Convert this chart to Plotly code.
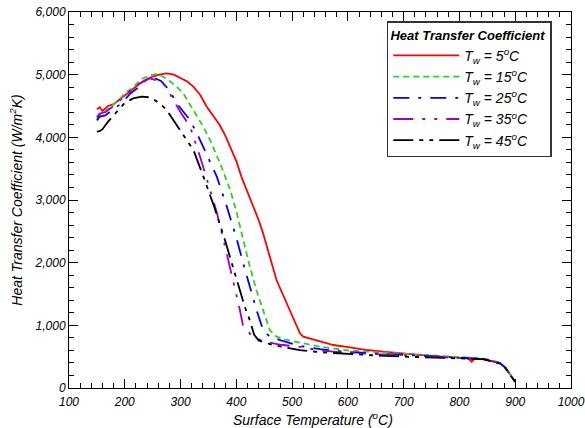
import plotly.graph_objects as go

# Surface temperature (°C) and heat transfer coefficient (W/m2K) for each water temperature
t_5 = [150, 155, 160, 170, 180, 190, 200, 210, 220, 230, 240, 250, 262, 275, 288, 300, 312, 323, 335, 347, 358, 370, 380, 389, 400, 410, 420, 430, 440, 448, 460, 472, 484, 496, 505, 514, 520, 535, 550, 574, 604, 634, 663, 693, 723, 753, 783, 813, 818, 822, 827, 843, 858, 873, 882, 891, 896, 900]
h_5 = [4450, 4480, 4420, 4500, 4530, 4600, 4680, 4750, 4820, 4880, 4930, 4970, 5000, 5020, 5000, 4950, 4890, 4810, 4680, 4489, 4350, 4200, 4030, 3851, 3620, 3350, 3130, 2893, 2680, 2468, 2100, 1723, 1480, 1245, 1040, 873, 819, 780, 740, 686, 650, 606, 580, 553, 530, 510, 492, 473, 455, 420, 470, 457, 430, 394, 330, 207, 150, 100]

t_15 = [150, 155, 160, 170, 180, 190, 200, 215, 230, 245, 257, 269, 283, 293, 305, 323, 340, 353, 372, 389, 400, 412, 424, 436, 448, 460, 472, 490, 514, 550, 600, 650, 700, 750, 800, 820, 843, 858, 873, 882, 891, 900]
h_15 = [4300, 4350, 4380, 4450, 4520, 4600, 4700, 4800, 4930, 4990, 5010, 4967, 4880, 4808, 4702, 4436, 4180, 3957, 3560, 3160, 2820, 2380, 1942, 1560, 1245, 925, 819, 770, 723, 660, 600, 570, 545, 520, 495, 480, 470, 440, 400, 330, 210, 110]

t_25 = [150, 155, 165, 180, 195, 210, 225, 240, 252, 265, 280, 293, 317, 335, 350, 365, 383, 400, 412, 424, 436, 448, 460, 480, 514, 550, 600, 650, 700, 750, 800, 820, 843, 858, 873, 882, 891, 900]
h_25 = [4270, 4330, 4350, 4450, 4550, 4700, 4800, 4930, 4950, 4900, 4750, 4542, 4276, 3957, 3650, 3372, 2893, 2400, 2000, 1617, 1250, 925, 819, 760, 670, 620, 575, 550, 530, 505, 490, 480, 465, 435, 395, 325, 210, 105]

t_35 = [150, 155, 165, 180, 195, 210, 225, 245, 260, 275, 287, 300, 317, 335, 353, 365, 380, 395, 405, 412, 418, 430, 450, 480, 514, 550, 600, 650, 700, 750, 800, 843, 858, 873, 882, 891, 900]
h_35 = [4320, 4380, 4400, 4500, 4620, 4750, 4850, 4942, 4900, 4808, 4595, 4400, 4170, 3691, 3160, 2800, 2250, 1700, 1300, 1000, 920, 820, 740, 690, 655, 600, 560, 540, 520, 500, 485, 460, 430, 395, 325, 205, 100]

t_45 = [150, 155, 160, 170, 185, 200, 215, 230, 245, 263, 275, 287, 311, 323, 341, 360, 380, 400, 415, 424, 432, 440, 460, 480, 514, 550, 600, 650, 700, 750, 800, 843, 858, 873, 882, 891, 900]
h_45 = [4090, 4100, 4130, 4250, 4400, 4550, 4622, 4650, 4638, 4542, 4436, 4276, 3957, 3798, 3372, 2900, 2350, 1750, 1300, 1085, 850, 760, 700, 660, 606, 570, 540, 520, 500, 490, 475, 460, 425, 390, 320, 205, 95]

names = ["T<sub>w</sub> = 5<sup>o</sup>C", "T<sub>w</sub> = 15<sup>o</sup>C", "T<sub>w</sub> = 25<sup>o</sup>C",
         "T<sub>w</sub> = 35<sup>o</sup>C", "T<sub>w</sub> = 45<sup>o</sup>C"]
colors = ["#ff0000", "#33cc33", "#0000ff", "#9900cc", "#000000"]
dashes = ["solid", "6px,4px", "16px,9px,3px,9px", "20px,9px,3px,9px,3px,9px", "20px,6px,4px,6px,4px,6px"]

series = [(t_5, h_5), (t_15, h_15), (t_25, h_25), (t_35, h_35), (t_45, h_45)]

FONT = "Liberation Sans, Arial, sans-serif"

fig = go.Figure()
for (t, h), name, c, d in zip(series, names, colors, dashes):
    fig.add_trace(go.Scatter(x=t, y=h, mode="lines", name=name,
                             line=dict(color=c, width=1.8, dash=d)))

axis_common = dict(
    showline=True, linecolor="black", linewidth=1, mirror="ticks",
    ticks="inside", ticklen=9, tickcolor="black", tickwidth=1,
    showgrid=False, zeroline=False, automargin=False,
    tickfont=dict(family=FONT, size=12, color="black", style="italic"),
)

fig.update_xaxes(range=[100, 1000], dtick=100, tick0=100, ticklabelstandoff=3,
                 minor=dict(dtick=20, ticks="inside", ticklen=5, tickcolor="black"),
                 **axis_common)
fig.update_yaxes(range=[0, 6000], dtick=1000, tickformat=",d",
                 minor=dict(dtick=200, ticks="inside", ticklen=5, tickcolor="black"),
                 title=dict(text="Heat Transfer Coefficient (W/m<sup>2</sup>K)", standoff=8,
                            font=dict(family=FONT, size=14, color="black", style="italic")),
                 **axis_common)

fig.add_annotation(text="Surface Temperature (<sup>o</sup>C)", xref="paper", yref="paper",
                   x=0.487, y=-0.083, xanchor="center", yanchor="middle", showarrow=False,
                   font=dict(family=FONT, size=14, color="black", style="italic"))

fig.update_layout(
    width=585, height=428,
    margin=dict(l=69, r=14, t=12, b=40),
    plot_bgcolor="white", paper_bgcolor="white",
    font=dict(family=FONT, color="black"),
    legend=dict(
        x=0.633, y=0.975, xanchor="left", yanchor="top",
        bgcolor="white", bordercolor="#333333", borderwidth=1.5,
        itemwidth=66, tracegroupgap=0,
        font=dict(family=FONT, size=14, color="black", style="italic"),
        title=dict(text="Heat Transfer Coefficient ", side="top center",
                   font=dict(family=FONT, size=13, color="black", style="italic", weight="bold")),
    ),
)

fig.write_html("out.html")
